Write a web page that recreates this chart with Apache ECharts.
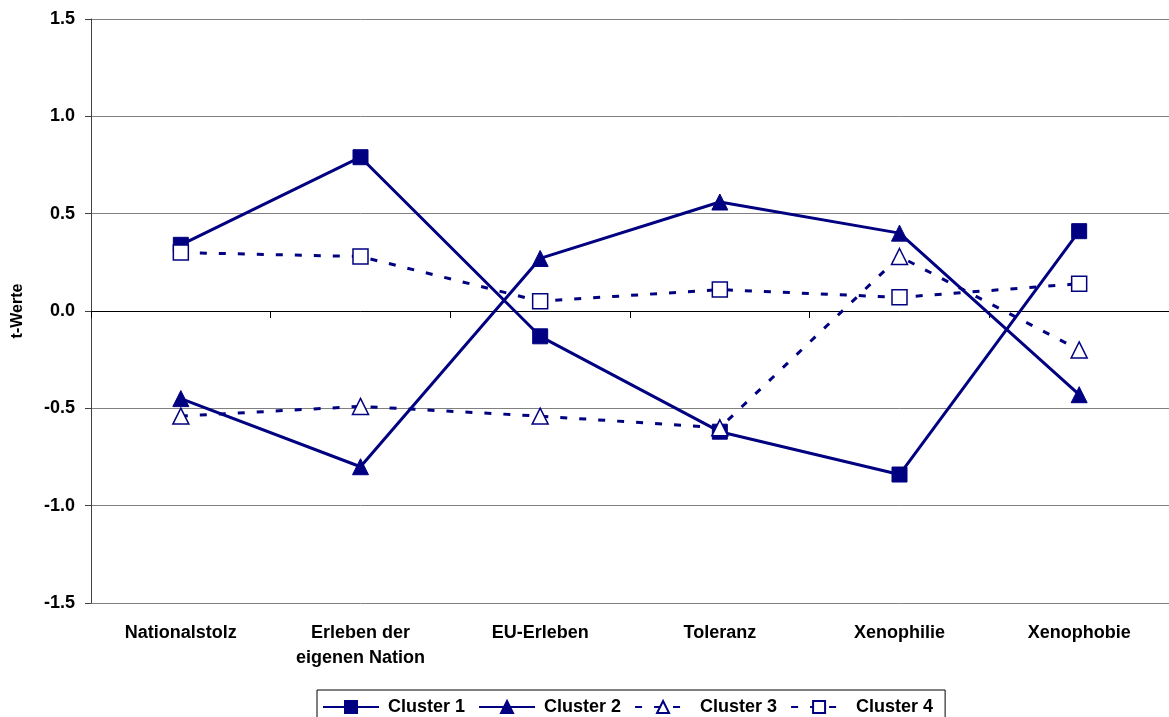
<!DOCTYPE html>
<html>
<head>
<meta charset="utf-8">
<script src="https://cdn.jsdelivr.net/npm/echarts@6/dist/echarts.min.js"></script>
<style>
html,body{margin:0;padding:0;background:#fff;}
#c{width:1169px;height:717px;}
</style>
</head>
<body>
<div id="c"></div>
<script>
var categories = ['Nationalstolz', 'Erleben der\neigenen Nation', 'EU-Erleben', 'Toleranz', 'Xenophilie', 'Xenophobie'];
var cluster1 = [0.34, 0.79, -0.13, -0.62, -0.84, 0.41];
var cluster2 = [-0.45, -0.80, 0.27, 0.56, 0.40, -0.43];
var cluster3 = [-0.54, -0.49, -0.54, -0.60, 0.28, -0.20];
var cluster4 = [0.30, 0.28, 0.05, 0.11, 0.07, 0.14];
var seriesNames = ['Cluster 1', 'Cluster 2', 'Cluster 3', 'Cluster 4'];
var yTicks = [-1.5, -1.0, -0.5, 0.0, 0.5, 1.0, 1.5];
var yAxisTitle = 't-Werte';

var NAVY = '#000080';
var FONT = 'Liberation Sans, Arial, sans-serif';

function mk(name, data, symbol, size, filled, dashed) {
  return {
    name: name,
    type: 'line',
    data: data,
    xAxisIndex: 0,
    symbol: symbol,
    symbolSize: size,
    showAllSymbol: true,
    lineStyle: { color: NAVY, width: 3, type: dashed ? [7, 12] : 'solid' },
    itemStyle: filled ? { color: NAVY, borderColor: NAVY, borderWidth: 1 } : { color: '#ffffff', borderColor: NAVY, borderWidth: 1.5 },
    emphasis: { disabled: true }
  };
}

var chart = echarts.init(document.getElementById('c'), null, { renderer: 'canvas' });
chart.setOption({
  animation: false,
  backgroundColor: '#ffffff',
  textStyle: { fontFamily: FONT },
  grid: { left: 91, right: 0, top: 19, bottom: 114, containLabel: false },
  legend: {
    data: seriesNames,
    left: 317,
    top: 690,
    orient: 'horizontal',
    borderColor: '#000000',
    borderWidth: 1,
    padding: [8, 12, 10, 5],
    itemWidth: 56,
    itemHeight: 15,
    itemGap: 13,
    textStyle: { fontFamily: FONT, fontWeight: 'bold', fontSize: 18, color: '#000', padding: [0, 0, 0, 4] }
  },
  xAxis: [
    {
      type: 'category',
      data: categories,
      position: 'bottom',
      boundaryGap: true,
      axisLine: { show: false, onZero: false },
      axisTick: { show: false },
      splitLine: { show: false },
      axisLabel: { interval: 0, margin: 18, fontFamily: FONT, fontWeight: 'bold', fontSize: 18, color: '#000', lineHeight: 25 }
    },
    {
      type: 'category',
      data: categories,
      position: 'top',
      boundaryGap: true,
      axisLine: { show: true, onZero: true, lineStyle: { color: '#000', width: 1 } },
      axisTick: { show: true, inside: true, length: 7, lineStyle: { color: '#000', width: 1 } },
      axisLabel: { show: false },
      splitLine: { show: false }
    }
  ],
  yAxis: {
    type: 'value',
    min: yTicks[0],
    max: yTicks[yTicks.length - 1],
    interval: 0.5,
    name: yAxisTitle,
    nameLocation: 'middle',
    nameGap: 65,
    nameRotate: 90,
    nameTextStyle: { fontFamily: FONT, fontWeight: 'bold', fontSize: 16, color: '#000' },
    axisLine: { show: true, lineStyle: { color: '#404040', width: 1 } },
    axisTick: { show: true, inside: false, length: 6, lineStyle: { color: '#404040' } },
    axisLabel: {
      fontFamily: FONT, fontWeight: 'bold', fontSize: 18, color: '#000', margin: 16,
      formatter: function (v) { return v.toFixed(1); }
    },
    splitLine: { show: true, lineStyle: { color: '#808080', width: 1 } }
  },
  series: [
    mk(seriesNames[0], cluster1, 'rect', 15, true, false),
    mk(seriesNames[1], cluster2, 'triangle', 16, true, false),
    mk(seriesNames[2], cluster3, 'triangle', 16, false, true),
    mk(seriesNames[3], cluster4, 'rect', 15, false, true)
  ]
});
</script>
</body>
</html>
